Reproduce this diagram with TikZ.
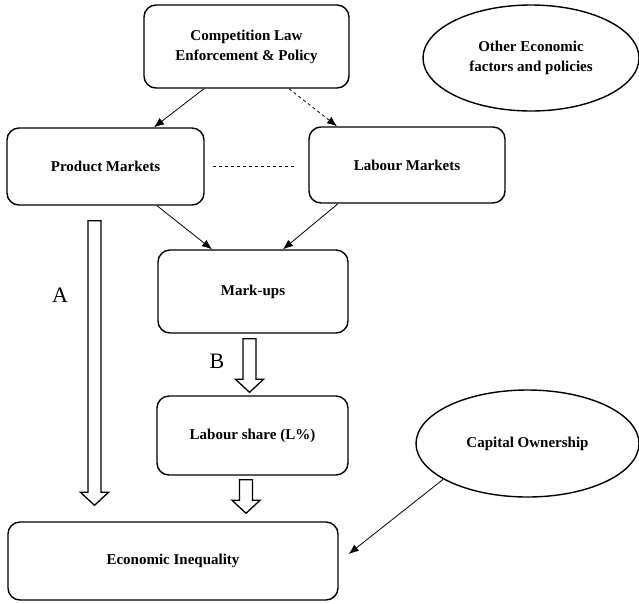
\documentclass[tikz,border=0pt]{standalone}
\usepackage{fontspec}
\setmainfont{Liberation Serif}
\usetikzlibrary{arrows.meta,shapes.geometric}

\tikzset{
  box/.style={draw,line width=1.4pt,rounded corners=12pt,
    font=\bfseries\fontsize{15}{20}\selectfont,align=center},
  oval/.style={draw,line width=1.4pt,ellipse,inner sep=0pt,
    font=\bfseries\fontsize{15}{20}\selectfont,align=center},
  link/.style={line width=0.8pt,-{Latex[length=10pt,width=8pt]}},
  fat/.style={draw,line width=1.3pt,fill=white},
  letter/.style={font=\fontsize{22}{26}\selectfont}
}
\newcommand{\fatarrow}[2]{%
  \path #1 coordinate (fa1) #2 coordinate (fa2);
  \draw[fat] ([xshift=-6.5pt]fa1) -- ([xshift=6.5pt]fa1)
    -- ([xshift=6.5pt,yshift=13pt]fa2) -- ([xshift=14pt,yshift=13pt]fa2)
    -- (fa2) -- ([xshift=-14pt,yshift=13pt]fa2)
    -- ([xshift=-6.5pt,yshift=13pt]fa2) -- cycle;}

\begin{document}
\begin{tikzpicture}[x=1pt,y=-1pt]
\useasboundingbox (0,0) rectangle (639,603);
\node[box,minimum width=205pt,minimum height=83pt] (comp) at (246.5,46.5) {Competition Law\\Enforcement \& Policy};
\node[oval,minimum width=216pt,minimum height=106pt] (other) at (531,58) {Other Economic\\factors and policies};
\node[box,minimum width=197pt,minimum height=77pt] (prod) at (105.5,166.5) {Product Markets};
\node[box,minimum width=196pt,minimum height=76pt] (lab) at (407,165) {Labour Markets};
\node[box,minimum width=190pt,minimum height=83pt] (mark) at (253,291.5) {Mark-ups};
\node[box,minimum width=191pt,minimum height=79pt] (lshare) at (252.5,435.5) {Labour share (L\%)};
\node[oval,minimum width=223pt,minimum height=107pt] (cap) at (527.5,443.5) {Capital Ownership};
\node[box,minimum width=330pt,minimum height=78pt] (econ) at (173,561) {Economic Inequality};
\node[letter] (labA) at (60,295) {A};
\node[letter] (labB) at (217,361) {B};
% thin arrows
\draw[link] ([xshift=-42.5pt]comp.south) -- ([xshift=48.5pt]prod.north);
\draw[link,dashed] ([xshift=42.5pt]comp.south) -- ([xshift=-70pt]lab.north);
\draw[line width=0.8pt,dashed] ([xshift=8pt]prod.east) -- ([xshift=-14pt]prod.east -| lab.west);
\draw[link] ([xshift=51.5pt]prod.south) -- ([xshift=-41pt]mark.north);
\draw[link] ([xshift=-69pt]lab.south) -- ([xshift=30pt]mark.north);
\draw[link] (cap.203) -- ([shift={(10pt,7pt)}]econ.east);
% hollow arrows
\fatarrow{([xshift=-11pt,yshift=-15pt]prod.south)}{([xshift=-11pt,yshift=16pt]prod.south |- econ.north)}
\fatarrow{([xshift=-3.5pt,yshift=-5pt]mark.south)}{([xshift=-3.5pt,yshift=3pt]mark.south |- lshare.north)}
\fatarrow{([xshift=-6.5pt,yshift=-4pt]lshare.south)}{([xshift=-6.5pt,yshift=8pt]lshare.south |- econ.north)}
\end{tikzpicture}
\end{document}
